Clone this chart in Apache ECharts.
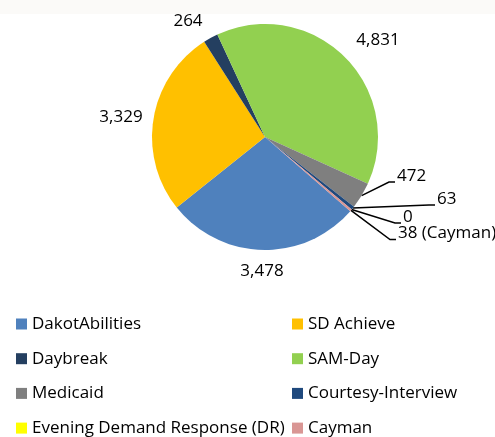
<!DOCTYPE html>
<html lang="en">
<head>
    <meta charset="UTF-8">
    <title>Rides by provider</title>
    <style>
        html,body{
            margin:0;
            padding:0;
            background:#fff;
        }
        #chartbox{
            width:495px;
            height:437px;
        }
    </style>
</head>
<body>
  <div id="chartbox"></div>
</body>
<script src="https://cdn.jsdelivr.net/npm/echarts@6/dist/echarts.min.js"></script>
<script>
    // data, in the same order as the spreadsheet legend
    var names = ['DakotAbilities', 'SD Achieve', 'Daybreak', 'SAM-Day', 'Medicaid',
                 'Courtesy-Interview', 'Evening Demand Response (DR)', 'Cayman'];
    var values = [3478, 3329, 264, 4831, 472, 63, 0, 38];
    var leftColumn = ['DakotAbilities', 'Daybreak', 'Medicaid', 'Evening Demand Response (DR)'];
    var rightColumn = ['SD Achieve', 'SAM-Day', 'Courtesy-Interview', 'Cayman'];

    var sliceColors = ['#4f81bd', '#ffc000', '#243f60', '#92d050', '#7f7f7f', '#1f497d', '#ffff00', '#d99694'];
    var smallSlices = ['Medicaid', 'Courtesy-Interview', 'Evening Demand Response (DR)', 'Cayman'];
    var labelSuffix = { 'Cayman': ' (Cayman)' };

    // label placement (x, y of text centre line, align) like the excel chart
    var labelPos = {
        'DakotAbilities': [262, 271, 'center'],
        'SD Achieve': [121, 117, 'center'],
        'Daybreak': [188, 21, 'center'],
        'SAM-Day': [378, 40, 'center'],
        'Medicaid': [397, 176, 'left'],
        'Courtesy-Interview': [437, 199, 'left'],
        'Evening Demand Response (DR)': [403, 217, 'left'],
        'Cayman': [398, 233.5, 'left']
    };

    var fontFamily = 'Open Sans',
        textColor = '#000';

    var pieData = names.map(function (n, i) {
        var small = smallSlices.indexOf(n) >= 0;
        return {
            name: n,
            value: values[i],
            itemStyle: { color: sliceColors[i] },
            labelLine: { show: small }
        };
    });

    function legendFor(list, left) {
        return {
            orient: 'vertical',
            left: left,
            top: 315,
            height: 200,
            padding: 0,
            itemGap: 16.7,
            itemWidth: 11,
            itemHeight: 11,
            icon: 'rect',
            selectedMode: false,
            textStyle: {
                color: textColor,
                fontFamily: fontFamily,
                fontSize: 17,
                lineHeight: 18
            },
            data: list
        };
    }

    var option = {
        animation: false,
        backgroundColor: '#fff',
        color: sliceColors,
        graphic: [{
            type: 'rect',
            left: 0,
            top: 0,
            shape: { width: 495, height: 14 },
            style: { fill: '#fbfaf8' },
            silent: true
        }],
        legend: [legendFor(leftColumn, 16), legendFor(rightColumn, 292)],
        series: [{
            type: 'pie',
            center: [265, 137],
            radius: 113,
            startAngle: -41,
            avoidLabelOverlap: false,
            itemStyle: { borderWidth: 0 },
            label: {
                show: true,
                position: 'outside',
                color: textColor,
                fontFamily: fontFamily,
                fontSize: 17,
                formatter: function (p) {
                    return p.value.toLocaleString('en-US') + (labelSuffix[p.name] || '');
                }
            },
            labelLine: {
                lineStyle: { color: '#000', width: 1.5 }
            },
            labelLayout: function (p) {
                var pos = labelPos[names[p.dataIndex]];
                var out = { x: pos[0], y: pos[1], align: pos[2], verticalAlign: 'middle' };
                if (p.labelLinePoints) {
                    var start = p.labelLinePoints[0];
                    var base = pos[1] + 6;
                    out.labelLinePoints = [start, [pos[0] - 8, base], [pos[0] - 2, base]];
                }
                return out;
            },
            data: pieData
        }]
    };

    var chart = echarts.init(document.getElementById('chartbox'));
    chart.setOption(option, true);
</script>
</html>
